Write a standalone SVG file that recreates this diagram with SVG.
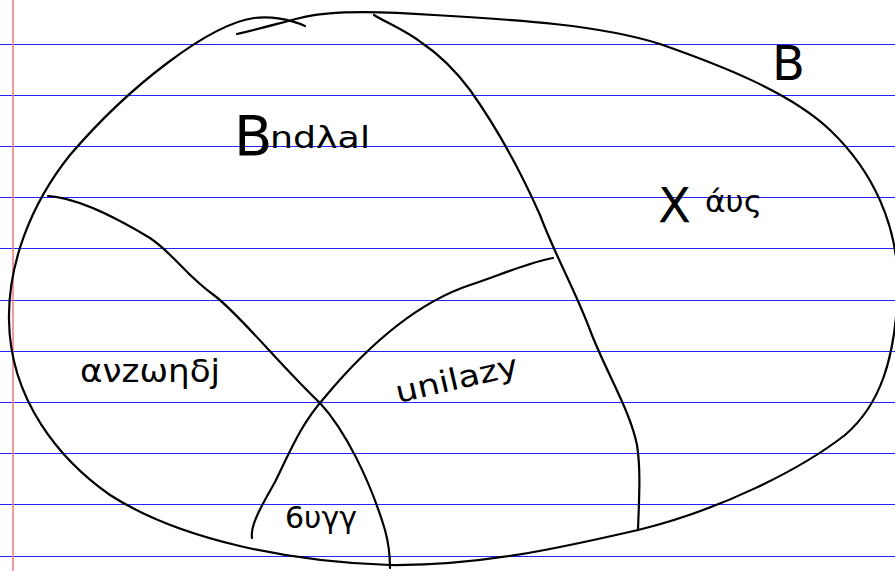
<svg xmlns="http://www.w3.org/2000/svg" width="895" height="571" viewBox="0 0 895 571">
<style>
.rule{stroke:#2424ff;stroke-width:1}
.ink{fill:none;stroke:#000;stroke-width:2.2;stroke-linecap:round;stroke-linejoin:round}
.lbl{font-family:"DejaVu Sans","Liberation Sans",sans-serif;fill:#000}
</style>
<rect x="0" y="0" width="895" height="571" fill="#fff"/>
<g id="paper">
<line class="rule" x1="0" y1="44.5" x2="895" y2="44.5"/>
<line class="rule" x1="0" y1="95.5" x2="895" y2="95.5"/>
<line class="rule" x1="0" y1="146.5" x2="895" y2="146.5"/>
<line class="rule" x1="0" y1="197.5" x2="895" y2="197.5"/>
<line class="rule" x1="0" y1="248.5" x2="895" y2="248.5"/>
<line class="rule" x1="0" y1="300.5" x2="895" y2="300.5"/>
<line class="rule" x1="0" y1="351.5" x2="895" y2="351.5"/>
<line class="rule" x1="0" y1="402.5" x2="895" y2="402.5"/>
<line class="rule" x1="0" y1="453.5" x2="895" y2="453.5"/>
<line class="rule" x1="0" y1="504.5" x2="895" y2="504.5"/>
<line class="rule" x1="0" y1="556.5" x2="895" y2="556.5"/>
<line x1="13" y1="0" x2="13" y2="571" stroke="#f08080" stroke-width="1.6"/>
</g>
<g id="outline">
<path class="ink" d="M305,26 C290,19 270,16 254,18 C210,24 130,85 70,155 C30,205 8,265 9,320 C10,400 60,460 110,495 C180,540 290,562 390,565 C480,566 560,548 638,530 C720,510 800,470 845,435 C880,405 895,360 898,290 C899,225 872,170 830,130 C790,92 720,65 660,44 C600,25 520,20 434,15 C380,11 330,10 300,18 C280,23 255,30 237,34"/>
</g>
<g id="connectors">
<path class="ink" d="M48,196 C80,198 120,220 150,238 C175,255 185,275 215,296 C240,315 280,365 320,403 C345,430 370,480 385,530 C390,548 390,560 390,568"/>
<path class="ink" d="M252,538 C250,525 262,505 275,482 C290,452 300,425 325,397 C360,355 410,305 470,285 C500,275 530,262 553,258"/>
<path class="ink" d="M374,15 C385,22 405,30 422,43 C440,55 455,70 470,90 C495,125 520,170 540,215 C555,255 575,290 590,330 C605,370 630,410 637,445 C641,470 639,500 638,530"/>
</g>
<g id="label-top">
<text class="lbl" x="234" y="155" font-size="56">B</text>
<text class="lbl" x="270" y="148" font-size="30" textLength="100" lengthAdjust="spacingAndGlyphs">ndλal</text>
</g>
<g id="label-right">
<text class="lbl" x="658" y="222" font-size="48">Χ</text>
<text class="lbl" x="705" y="212" font-size="30" textLength="57" lengthAdjust="spacingAndGlyphs">άυς</text>
</g>
<g id="label-left">
<text class="lbl" x="80" y="382" font-size="32" textLength="140" lengthAdjust="spacingAndGlyphs">ανzωηδj</text>
</g>
<g id="label-center">
<text class="lbl" x="398" y="403" font-size="30" textLength="125" lengthAdjust="spacingAndGlyphs" transform="rotate(-13 398 403)">unilazy</text>
</g>
<g id="label-bottom">
<text class="lbl" x="285" y="528" font-size="30" textLength="72" lengthAdjust="spacingAndGlyphs">6υγγ</text>
</g>
<g id="label-corner">
<text class="lbl" x="772" y="80" font-size="48">B</text>
</g>
</svg>
